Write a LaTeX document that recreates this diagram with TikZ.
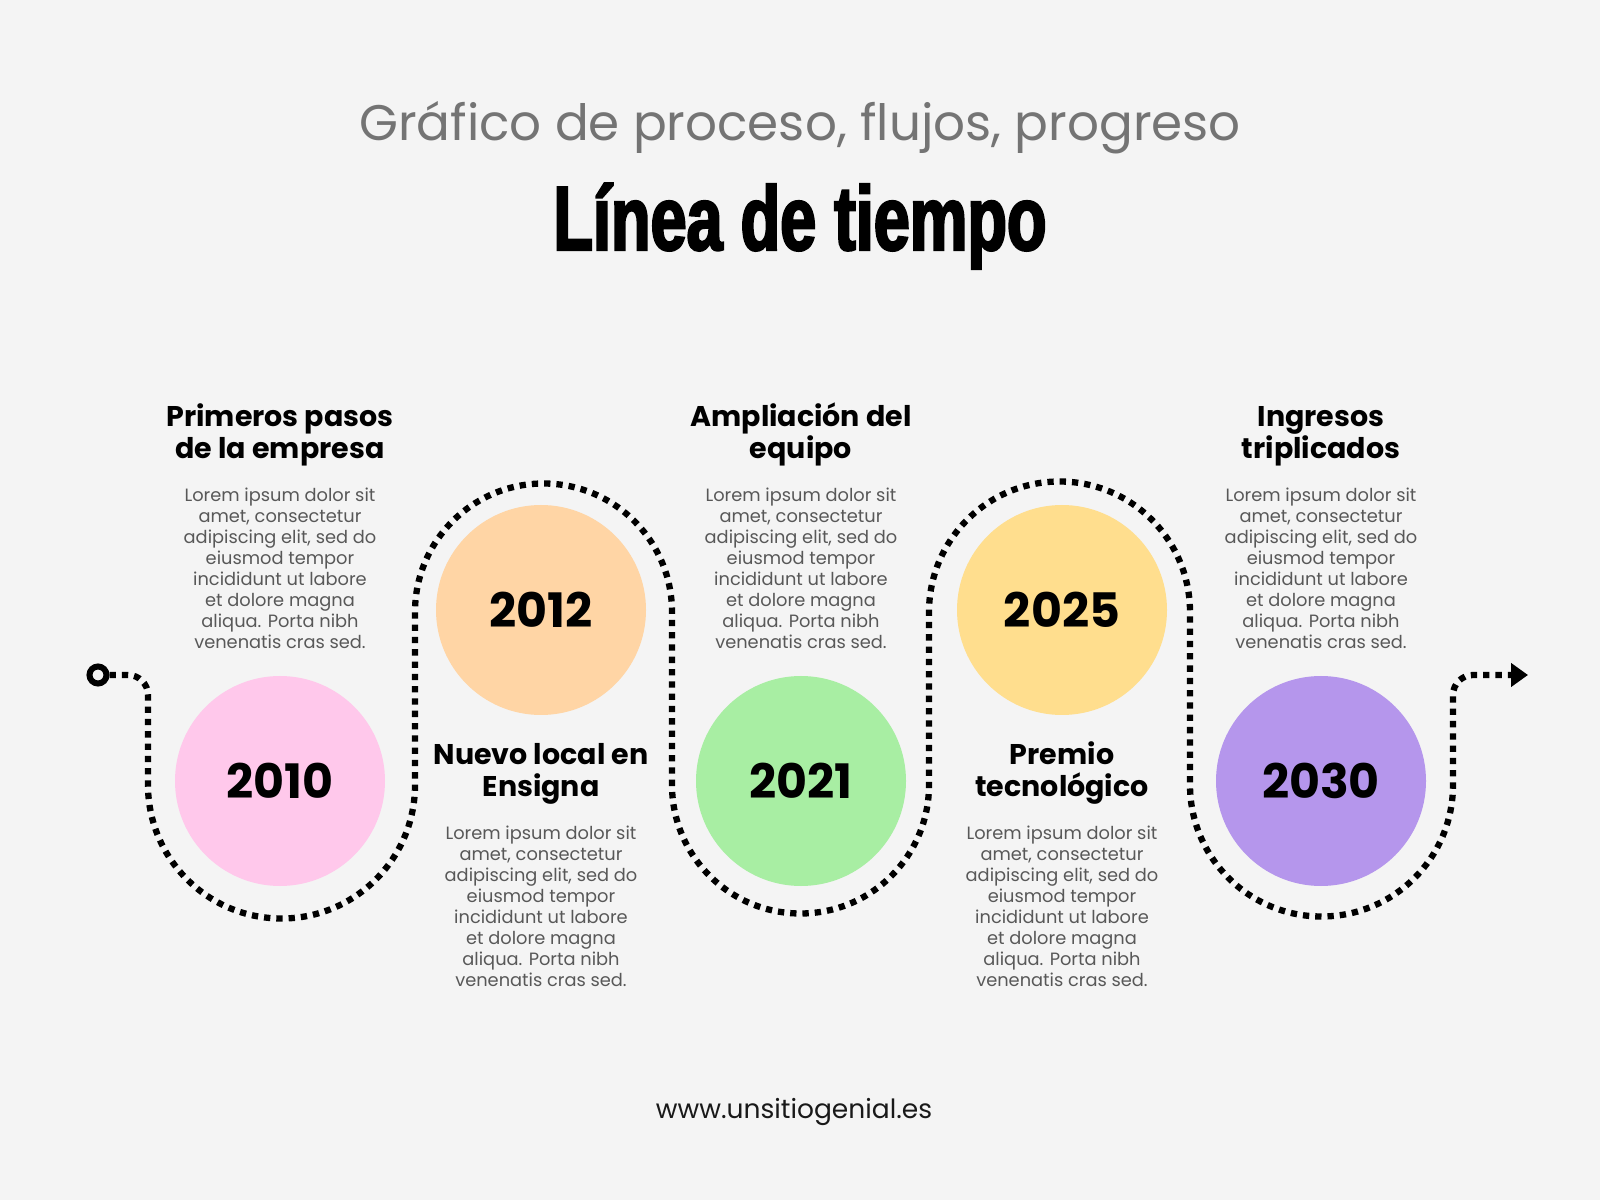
\documentclass[tikz,border=0pt]{standalone}
\usepackage{fontspec}
\setmainfont{Poppins}
\newfontfamily\titlefont[FakeStretch=0.712,FakeBold=2.5]{Liberation Sans}
\usetikzlibrary{arrows.meta}
\definecolor{bg}{HTML}{F4F4F4}
\definecolor{subgray}{HTML}{747474}
\definecolor{bodygray}{HTML}{585858}
\definecolor{cpink}{HTML}{FFC8EB}
\definecolor{cpeach}{HTML}{FFD5A5}
\definecolor{cgreen}{HTML}{A8EEA3}
\definecolor{cyellow}{HTML}{FFDE8E}
\definecolor{cpurple}{HTML}{B596EC}
\newcommand\colblock[4]{%
  \foreach \ln [count=\k] in {#4}
    \node[headtxt] (#1-h\k) at (#2, #3-32*\k+32) {\ln};
  \foreach \ln [count=\k] in {Lorem ipsum dolor sit, {amet, consectetur}, {adipiscing elit, sed do}, eiusmod tempor, incididunt ut labore, et dolore magna, aliqua. Porta nibh, venenatis cras sed.}
    \node[bodytxt] (#1-b\k) at (#2, #3-75-20.9*\k+20.9) {\ln};
}
\begin{document}
\begin{tikzpicture}[x=1pt,y=1pt,
  headtxt/.style={anchor=base, inner sep=0, font=\bfseries\fontsize{28.5}{32}\selectfont},
  bodytxt/.style={anchor=base, inner sep=0, text=bodygray, font=\fontsize{17.8}{21}\selectfont},
  year/.style={circle, inner sep=0, minimum size=210pt, font=\bfseries\fontsize{47.5}{50}\selectfont},
  pathline/.style={line width=6.3pt, dash pattern=on 6.3pt off 6pt},
  ring/.style={circle, draw, line width=6pt, minimum size=17pt, inner sep=0}]
\fill[bg] (0,0) rectangle (1600,1200);
\useasboundingbox (0,0) rectangle (1600,1200);

\node[anchor=base, text=subgray, font=\fontsize{50}{60}\selectfont] (subtitle) at (800,1059) {Gráfico de proceso, flujos, progreso};
\node[anchor=base, font=\titlefont\bfseries\fontsize{91}{100}\selectfont] (title) at (800,950) {Línea de tiempo};

\node[year, fill=cpink] (y2010) at (280,419) {2010};
\node[year, fill=cpeach] (y2012) at (541,590) {2012};
\node[year, fill=cgreen] (y2021) at (801,419) {2021};
\node[year, fill=cyellow] (y2025) at (1062,590) {2025};
\node[year, fill=cpurple] (y2030) at (1321,419) {2030};

\node[ring] (start) at (98,525) {};
\coordinate (finish) at (1528,525);
\draw[pathline, -{Triangle[length=17pt,width=23pt]}] (start.east) -- (128,525) arc[start angle=90,end angle=0,radius=20]
  -- (148,415) arc[start angle=180,end angle=360,radius=133.5]
  -- (415,588) arc[start angle=180,end angle=0,radius=128.5]
  -- (672,415) arc[start angle=180,end angle=360,radius=128.5]
  -- (929,588) arc[start angle=180,end angle=0,radius=130.5]
  -- (1190,415) arc[start angle=180,end angle=360,radius=131.5]
  -- (1453,505) arc[start angle=180,end angle=90,radius=20] -- (finish);

\colblock{t1}{280}{773}{Primeros pasos, de la empresa}
\colblock{t2}{541}{435}{Nuevo local en, Ensigna}
\colblock{t3}{801}{773}{Ampliación del, equipo}
\colblock{t4}{1062}{435}{Premio, tecnológico}
\colblock{t5}{1321}{773}{Ingresos, triplicados}

\node[anchor=base, text=black!90, font=\fontsize{26.5}{30}\selectfont] (footer) at (794,82) {www.unsitiogenial.es};
\end{tikzpicture}
\end{document}
